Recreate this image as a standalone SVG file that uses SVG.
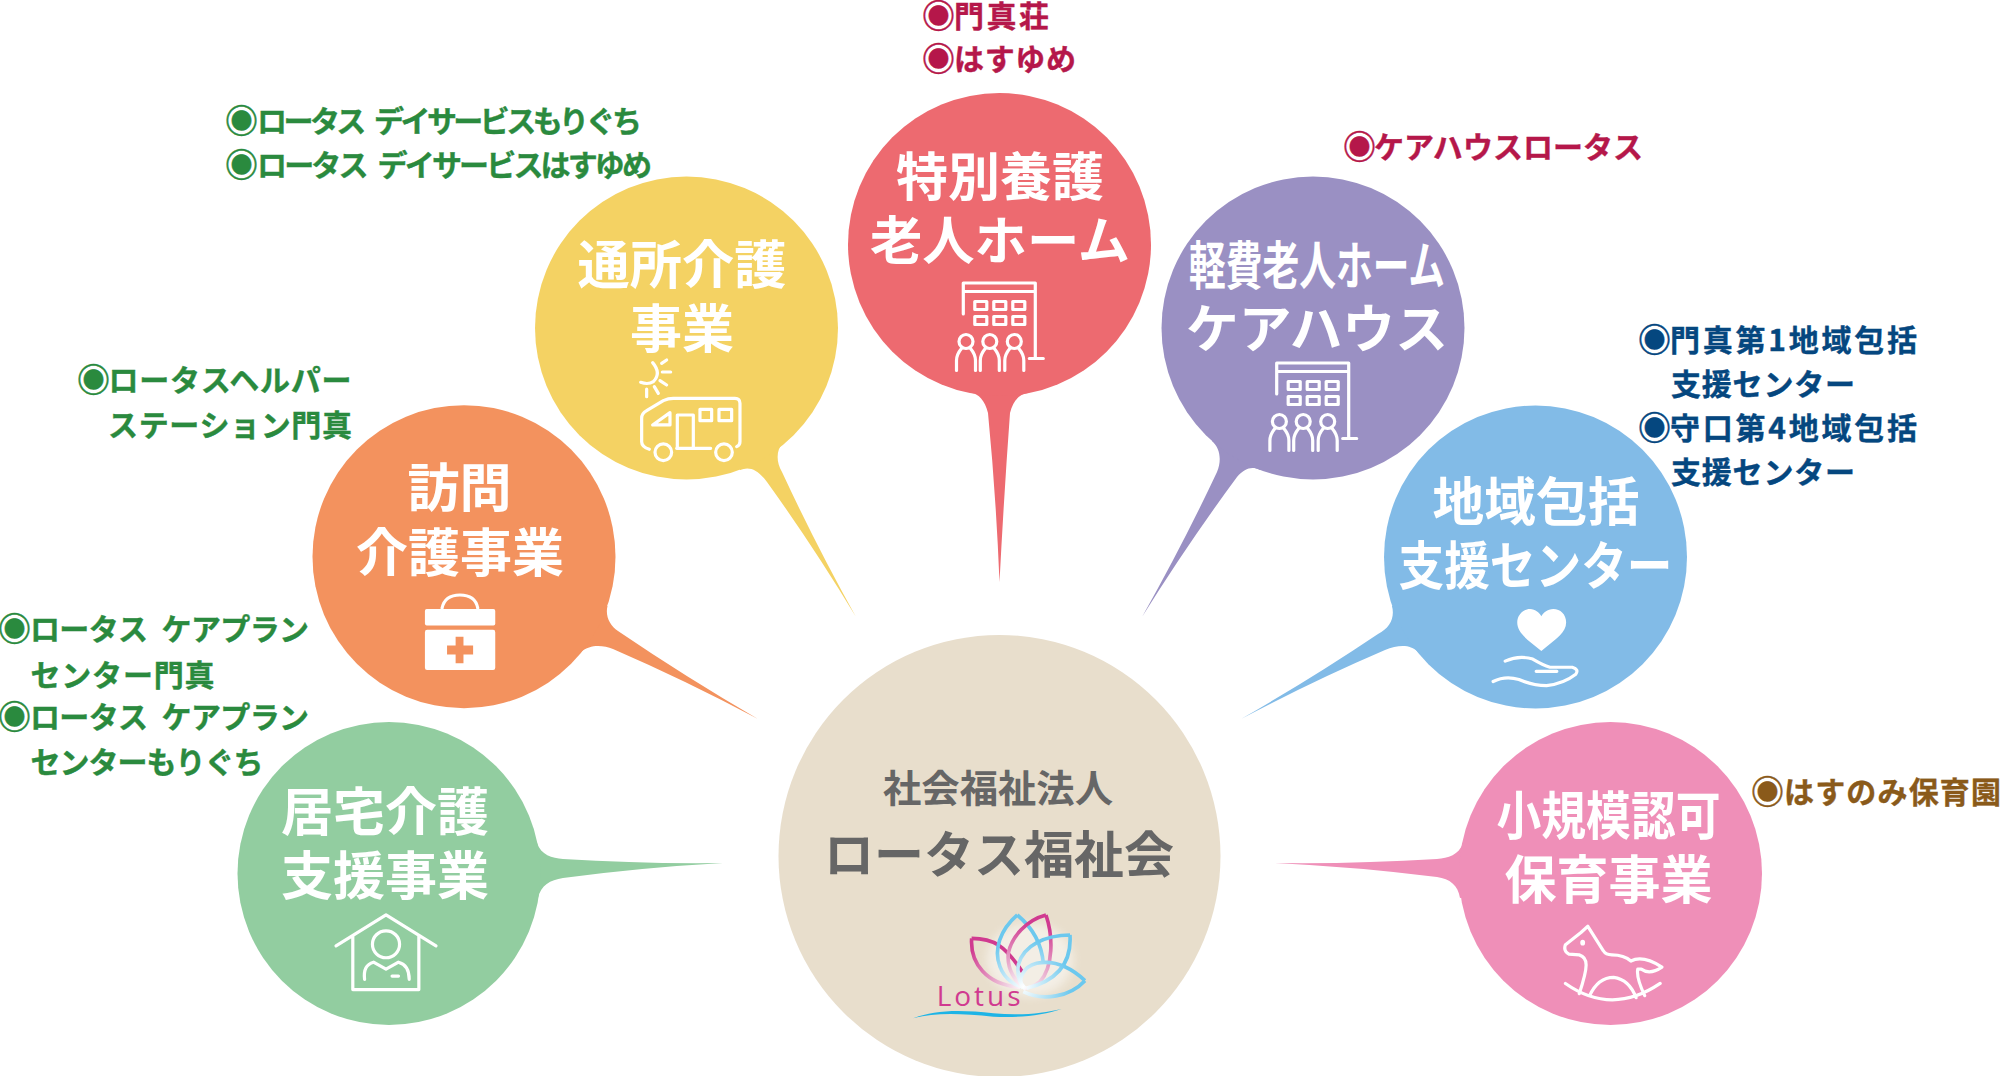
<svg xmlns="http://www.w3.org/2000/svg" width="2000" height="1076" viewBox="0 0 2000 1076">
<style>
text{font-family:"Noto Sans CJK JP","Noto Sans",sans-serif;font-weight:700}
.t{font-size:52px;fill:#fff;text-anchor:middle}
.l{font-size:30px;stroke-width:.4px}
.d{font-size:33px}
.w{word-spacing:8px}
.cg{fill:#2a8a3e;stroke:#2a8a3e}.cr{fill:#b5174a;stroke:#b5174a}.cb{fill:#05477f;stroke:#05477f}.cn{fill:#8a5a1a;stroke:#8a5a1a}
.i{fill:none;stroke:#fff;stroke-width:3.2;stroke-linecap:round;stroke-linejoin:round;vector-effect:non-scaling-stroke}
.f{fill:#fff}
</style>
<defs>
<radialGradient id="gb" gradientUnits="userSpaceOnUse" cx="790" cy="1100" r="190"><stop offset="0" stop-color="#fff"/><stop offset=".3" stop-color="#c4e9f8"/><stop offset=".75" stop-color="#6cc8ee"/></radialGradient>
<radialGradient id="gp" gradientUnits="userSpaceOnUse" cx="790" cy="1100" r="200"><stop offset="0" stop-color="#fff"/><stop offset=".3" stop-color="#eec4da"/><stop offset=".95" stop-color="#d03a90"/></radialGradient>
<filter id="glow" x="-30%" y="-30%" width="160%" height="160%"><feGaussianBlur stdDeviation="14"/></filter>
<g id="person"><circle class="i" r="7"/><path class="i" d="M-9.5 29V19Q-9.5 13 -4.5 7M4.5 7Q9.5 13 9.5 19V29"/></g>
<g id="building">
<path class="i" d="M0 31V0H72V75M66 75.5H80M0 8.5H72"/>
<g class="i"><rect x="11.5" y="18.5" width="12" height="8"/><rect x="30.5" y="18.5" width="12" height="8"/><rect x="49.5" y="18.5" width="12" height="8"/><rect x="11.5" y="33.5" width="12" height="8"/><rect x="30.5" y="33.5" width="12" height="8"/><rect x="49.5" y="33.5" width="12" height="8"/></g>
<use href="#person" x="2.7" y="58.5"/><use href="#person" x="26.5" y="58.5"/><use href="#person" x="51" y="58.5"/>
</g>
</defs>
<rect width="2000" height="1076" fill="#fff"/>
<g id="connectors">
<path fill="#ed6a70" d="M972 393C978 394 985 400 988 413Q996 495 999.5 582Q1004 495 1010 413C1013 400 1020 394 1028 393L1000 300Z"/>
<path fill="#f4d263" d="M783 443C776 450 776 462 782 472Q815.3 543.9 856 617Q813 545.8 767 482C758 470 750 466 740 470L686 328Z"/>
<path fill="#9a90c3" d="M1212 441C1220 448 1222 460 1217 472Q1183.2 543.9 1142 617Q1188 543.3 1237 477C1245 468 1252 466 1260 470L1313 328Z"/>
<path fill="#f3925e" d="M607.5 606C605 616 610 626 618 631Q684.9 676.5 758 719Q685.3 680.3 613 649C603 645 590 644 581 652L464 557Z"/>
<path fill="#82bbe7" d="M1392 606C1395 618 1390 628 1378 634Q1312.6 678 1241 719Q1313.2 680.8 1385 650C1398 645 1410 644 1418 652L1536 557Z"/>
<path fill="#92cda0" d="M537 843C541 855 552 858 563 859Q641.5 864 723 863Q641.5 867.5 563 878C550 880 541 885 538 898L389 873Z"/>
<path fill="#ef8fb8" d="M1463 843C1459 855 1448 858 1437 859Q1357.5 864 1275 863Q1357.5 867 1437 877C1450 879 1458 885 1460 898L1611 873Z"/>
</g>
<g id="node-center">
<circle cx="999.5" cy="856" r="221" fill="#e8decc"/>
<text x="998" y="802" font-size="38" text-anchor="middle" fill="#666" textLength="230" lengthAdjust="spacingAndGlyphs">社会福祉法人</text>
<text x="999" y="873" font-size="50" text-anchor="middle" fill="#666" textLength="350" lengthAdjust="spacingAndGlyphs">ロータス福祉会</text>
<g id="logo" transform="translate(760 620) scale(.3333)">
<ellipse cx="810" cy="1020" rx="130" ry="110" fill="#fff" opacity=".5" filter="url(#glow)"/>
<path fill="none" stroke="#d03a90" stroke-width="11" d="M635 955C700 955 735 975 790 1060"/>
<path fill="none" stroke="url(#gp)" stroke-width="11" d="M635 955C630 1030 680 1095 780 1102"/>
<path fill="none" stroke="url(#gb)" stroke-width="11" d="M772 885C720 930 700 990 720 1040C735 1080 770 1100 790 1100M772 885C820 925 845 970 850 1030"/>
<path fill="none" stroke="url(#gp)" stroke-width="11" d="M858 885C800 900 755 950 745 1000C740 1050 770 1090 790 1100M858 885C880 950 880 1040 840 1085C820 1100 805 1105 790 1105"/>
<path fill="none" stroke="url(#gb)" stroke-width="11" d="M930 945C860 945 790 975 775 1035C770 1070 780 1090 795 1105M930 945C935 1020 900 1080 800 1105"/>
<path fill="none" stroke="url(#gb)" stroke-width="11" d="M975 1082C930 1040 880 1020 830 1030C790 1040 770 1080 790 1105M975 1082C930 1130 850 1145 790 1115"/>
<text x="530" y="1158" font-size="84" letter-spacing="9" fill="#d03a90" style="font-family:'Open Sans','Noto Sans',sans-serif;font-weight:400">Lotus</text>
<path fill="#1eb4e6" d="M460 1195C520 1170 600 1168 700 1180C780 1188 850 1180 905 1167C850 1186 780 1194 700 1190C600 1180 520 1178 460 1195Z"/>
</g>
</g>
<g id="node-tokuyou">
<circle cx="999.5" cy="244.5" r="151.5" fill="#ed6a70"/>
<text class="t" x="1000" y="195.5" textLength="208" lengthAdjust="spacingAndGlyphs">特別養護</text>
<text class="t" x="1000" y="259.5" textLength="260" lengthAdjust="spacingAndGlyphs">老人ホーム</text>
<use href="#building" x="963.3" y="283"/>
</g>
<g id="node-tsusho">
<circle cx="686.5" cy="328" r="151.5" fill="#f4d263"/>
<text class="t" x="682" y="284" textLength="209" lengthAdjust="spacingAndGlyphs">通所介護</text>
<text class="t" x="682" y="348" textLength="104" lengthAdjust="spacingAndGlyphs">事業</text>
<g transform="translate(520 170) scale(.3333)">
<path class="i" d="M388 838Q365 830 365 815V745Q365 730 380 722L430 692Q445 685 460 685H645Q660 685 660 700V815Q660 825 650 830M470 835H572M472 835V735H520V835M450 728L398 765H450ZM398 578Q425 610 400 635Q385 645 362 637M425 580L440 570M427 606H452M420 632L440 645M403 650L415 670M380 657V680"/>
<rect class="i" x="540" y="718" width="35" height="34"/><rect class="i" x="597" y="718" width="38" height="34"/>
<circle class="i" cx="430" cy="847" r="25"/><circle class="i" cx="612" cy="847" r="25"/>
</g>
</g>
<g id="node-keihi">
<circle cx="1313" cy="328" r="151.5" fill="#9a90c3"/>
<text class="t" x="1317" y="285" textLength="256" lengthAdjust="spacingAndGlyphs">軽費老人ホーム</text>
<text class="t" x="1317" y="348" textLength="262" lengthAdjust="spacingAndGlyphs">ケアハウス</text>
<use href="#building" x="1276.7" y="363"/>
</g>
<g id="node-houmon">
<circle cx="464" cy="556.7" r="151.5" fill="#f3925e"/>
<text class="t" x="459.5" y="507" textLength="104" lengthAdjust="spacingAndGlyphs">訪問</text>
<text class="t" x="460" y="572" textLength="208" lengthAdjust="spacingAndGlyphs">介護事業</text>
<g transform="translate(220 400) scale(.357 .408)">
<path class="i" d="M622 510Q630 478 672 478Q715 478 722 510"/>
<rect class="f" x="574" y="512" width="197" height="41" rx="5"/>
<path class="f" fill-rule="evenodd" d="M580 563H765Q771 563 771 569V656Q771 662 765 662H580Q574 662 574 656V569Q574 563 580 563ZM660 580V602H636V624H660V645H682V624H709V602H682V580Z"/>
</g>
</g>
<g id="node-kyotaku">
<circle cx="389" cy="873.5" r="151.5" fill="#92cda0"/>
<text class="t" x="385" y="831" textLength="208" lengthAdjust="spacingAndGlyphs">居宅介護</text>
<text class="t" x="385" y="895" textLength="208" lengthAdjust="spacingAndGlyphs">支援事業</text>
<g transform="translate(220 400) scale(.357 .408)">
<path class="i" d="M325 1338L465 1262L605 1338M372 1312V1445H557V1312M405 1420Q400 1385 430 1378L465 1395L500 1378Q530 1385 530 1420M482 1412H500"/>
<ellipse class="i" cx="465" cy="1334" rx="38" ry="33"/>
</g>
</g>
<g id="node-chiiki">
<circle cx="1535.5" cy="557" r="151.5" fill="#82bbe7"/>
<text class="t" x="1536" y="521" textLength="207" lengthAdjust="spacingAndGlyphs">地域包括</text>
<text class="t" x="1535.5" y="585" textLength="274" lengthAdjust="spacingAndGlyphs">支援センター</text>
<g transform="translate(1240 400) scale(.3444 .408)">
<path class="f" d="M875 615C830 585 805 570 805 545C805 525 825 512 842 512C858 512 870 522 875 530C880 522 892 512 910 512C930 512 947 525 947 545C947 570 920 585 875 615Z"/>
<path class="i" d="M770 640Q810 625 850 635Q880 650 900 655L965 655Q985 660 975 672Q940 695 890 700Q850 700 810 685Q770 675 735 690M860 665H920"/>
</g>
</g>
<g id="node-hoiku">
<circle cx="1610.5" cy="873.5" r="151.5" fill="#ef8fb8"/>
<text class="t" x="1608.5" y="835" textLength="224" lengthAdjust="spacingAndGlyphs">小規模認可</text>
<text class="t" x="1608.5" y="899" textLength="208" lengthAdjust="spacingAndGlyphs">保育事業</text>
<g transform="translate(1240 400) scale(.3444 .408)">
<path class="i" d="M1010 1290L1055 1350Q1062 1360 1080 1360Q1115 1360 1135 1375Q1170 1360 1225 1390Q1190 1410 1165 1395L1155 1395Q1150 1415 1175 1460M1010 1290L990 1305L945 1335Q938 1350 955 1358L985 1360Q1005 1365 1005 1385Q1005 1405 985 1455M945 1430Q1080 1510 1220 1430M1015 1460Q1040 1415 1085 1415Q1130 1420 1150 1465"/>
<circle class="f" cx="995" cy="1330" r="7"/>
</g>
</g>
<g id="labels" class="l">
<text class="cr"><tspan class="d" x="922" y="28">◉</tspan><tspan x="954" y="27" textLength="95">門真荘</tspan></text>
<text class="cr"><tspan class="d" x="922" y="71">◉</tspan><tspan x="954" y="69.5" textLength="122">はすゆめ</tspan></text>
<text class="cr"><tspan class="d" x="1343" y="159">◉</tspan><tspan x="1374" y="157.5" textLength="269">ケアハウスロータス</tspan></text>
<text class="cg"><tspan class="d" x="225" y="133">◉</tspan><tspan class="w" x="257" y="131.5" textLength="385">ロータス デイサービスもりぐち</tspan></text>
<text class="cg"><tspan class="d" x="225" y="177">◉</tspan><tspan class="w" x="257" y="175.5" textLength="395">ロータス デイサービスはすゆめ</tspan></text>
<text class="cg"><tspan class="d" x="77" y="392">◉</tspan><tspan x="108.5" y="390.5" textLength="243">ロータスヘルパー</tspan></text>
<text class="cg" x="108" y="435.5" textLength="244">ステーション門真</text>
<text class="cg"><tspan class="d" x="-2" y="641">◉</tspan><tspan class="w" x="30" y="639.5" textLength="279">ロータス ケアプラン</tspan></text>
<text class="cg" x="30.5" y="685.5" textLength="184">センター門真</text>
<text class="cg"><tspan class="d" x="-2" y="729">◉</tspan><tspan class="w" x="30" y="727.5" textLength="279">ロータス ケアプラン</tspan></text>
<text class="cg" x="30.5" y="772.5" textLength="233">センターもりぐち</text>
<text class="cb"><tspan class="d" x="1638" y="352">◉</tspan><tspan x="1670" y="350.5" textLength="247">門真第1地域包括</tspan></text>
<text class="cb" x="1671" y="394.5" textLength="184">支援センター</text>
<text class="cb"><tspan class="d" x="1638" y="440">◉</tspan><tspan x="1670" y="438.5" textLength="247">守口第4地域包括</tspan></text>
<text class="cb" x="1671" y="482.5" textLength="184">支援センター</text>
<text class="cn"><tspan class="d" x="1751" y="804">◉</tspan><tspan x="1784" y="802.5" textLength="217">はすのみ保育園</tspan></text>
</g>
</svg>
